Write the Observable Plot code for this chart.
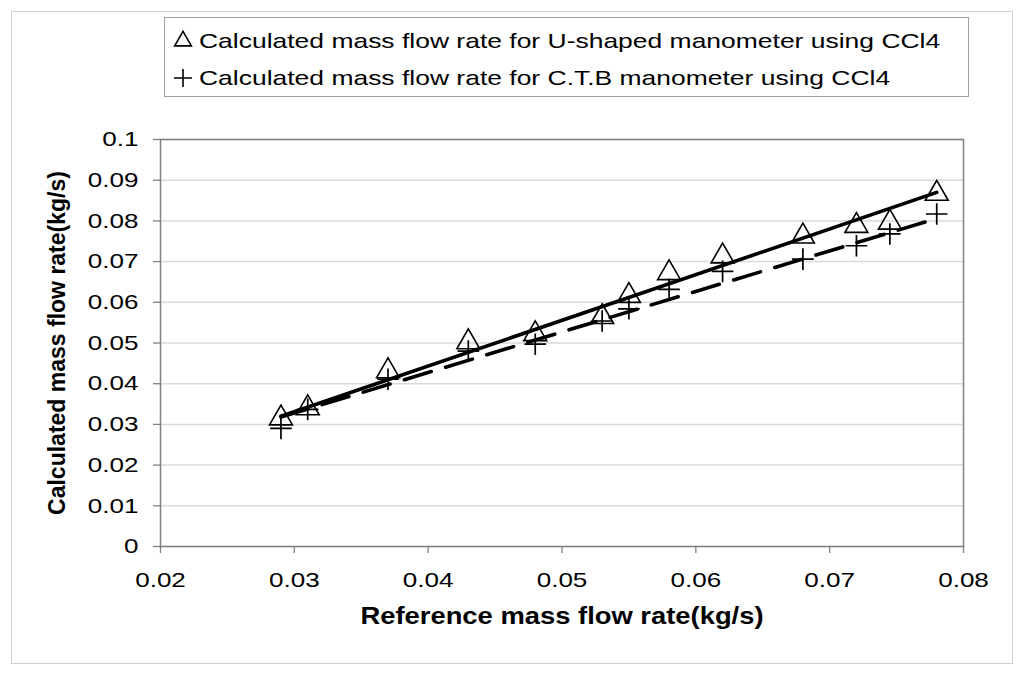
<!DOCTYPE html>
<html>
<head>
<meta charset="utf-8">
<script src="https://cdn.jsdelivr.net/npm/d3@7"></script>
<script src="https://cdn.jsdelivr.net/npm/@observablehq/plot@0.6"></script>
<style>
  body { margin: 0; background: white; font-family: "Liberation Sans", Arial, sans-serif; }
  #wrap { position: relative; width: 1024px; height: 676px; }
  #chart { position: absolute; left: 0; top: 0; }
  #border { position: absolute; left: 11px; top: 11px; width: 1000px; height: 651px; border: 1.5px solid #cfcfcf; }
  #legend { position: absolute; left: 164px; top: 17px; width: 803px; height: 78px; border: 1px solid #a0a0a0; background: white; }
  g[aria-label="y-axis tick"], g[aria-label="x-axis tick"] { stroke: #808080; stroke-width: 1.3; }
</style>
</head>
<body>
<div id="wrap">
  <div id="border"></div>
  <div id="chart"></div>
  <div id="legend"></div>
</div>
<script>
// tick values
const xTicks = [0.02, 0.03, 0.04, 0.05, 0.06, 0.07, 0.08];
const yTicks = [0, 0.01, 0.02, 0.03, 0.04, 0.05, 0.06, 0.07, 0.08, 0.09, 0.1];

// reference mass flow rate (x) and calculated rates for both manometers
const refFlow = [0.029, 0.031, 0.037, 0.043, 0.048, 0.053, 0.055, 0.058, 0.062, 0.068, 0.072, 0.0745, 0.078];
const uShaped = [0.0315, 0.034, 0.0431, 0.0502, 0.0522, 0.0564, 0.0616, 0.0672, 0.0713, 0.0762, 0.0788, 0.0796, 0.0867];
const ctb = [0.029, 0.0337, 0.0411, 0.048, 0.0497, 0.0554, 0.0584, 0.0632, 0.0676, 0.0706, 0.0739, 0.0768, 0.0817];

// trend lines as drawn in the picture
const trendX = [0.029, 0.078];
const uTrend = [0.032, 0.087];
const ctbTrend = [0.0318, 0.0806];

const legendLabels = [
  "Calculated mass flow rate for U-shaped manometer using CCl4",
  "Calculated mass flow rate for C.T.B manometer using CCl4"
];
const xTitle = "Reference mass flow rate(kg/s)";
const yTitle = "Calculated mass flow rate(kg/s)";

const uPts = refFlow.map((x, i) => ({x, y: uShaped[i]}));
const cPts = refFlow.map((x, i) => ({x, y: ctb[i]}));
const uLine = trendX.map((x, i) => ({x, y: uTrend[i]}));
const cLine = trendX.map((x, i) => ({x, y: ctbTrend[i]}));

const fmt = d => String(+d.toFixed(2));

let chart = Plot.plot({
  width: 1024,
  height: 676,
  marginTop: 139,
  marginLeft: 160,
  marginRight: 61,
  marginBottom: 130,
  x: {domain: [0.02, 0.08]},
  y: {domain: [0, 0.1]},
  style: {
    fontFamily: "Liberation Sans, Arial, sans-serif",
    fontSize: "21px",
    background: "transparent",
    color: "black",
    overflow: "visible"
  },
  marks: [
    Plot.gridY(yTicks, {stroke: "#d9d9d9", strokeOpacity: 1, strokeWidth: 1.5}),
    Plot.frame({stroke: "#808080", strokeWidth: 1.5}),
    Plot.axisY(yTicks, {tickSize: 7, tickPadding: 15, tickFormat: fmt, label: null, fontSize: 21}),
    Plot.axisX(xTicks, {tickSize: 7, tickPadding: 19, tickFormat: fmt, label: null, fontSize: 21}),
    Plot.line(uLine, {x: "x", y: "y", stroke: "black", strokeWidth: 3.6}),
    Plot.line(cLine, {x: "x", y: "y", stroke: "black", strokeWidth: 3.6, strokeDasharray: "28,15"}),
    Plot.dot(uPts, {x: "x", y: "y", symbol: "triangle", r: 8.5, stroke: "black", strokeWidth: 1.6, fill: "none"}),
    Plot.dot(cPts, {x: "x", y: "y", symbol: "plus", r: 7, stroke: "black", strokeWidth: 1.7}),
    Plot.text([xTitle], {frameAnchor: "bottom", textAnchor: "middle", dy: 77, fontWeight: "bold", fontSize: 23}),
    Plot.text([yTitle], {frameAnchor: "left", textAnchor: "middle", dx: -103, rotate: -90, fontWeight: "bold", fontSize: 23})
  ]
});
d3.select("#chart").append(() => chart);

function stretch(sel, k) {
  sel.each(function() {
    const w = this.getComputedTextLength();
    this.setAttribute("textLength", w * k);
    this.setAttribute("lengthAdjust", "spacingAndGlyphs");
  });
}
stretch(d3.select(chart).selectAll('g[aria-label="y-axis tick label"] text, g[aria-label="x-axis tick label"] text'), 1.24);
stretch(d3.select(chart).selectAll("text").filter(function() { return this.textContent === xTitle; }), 1.19);

// legend
const lg = d3.select("#legend").append("svg").attr("width", 803).attr("height", 78)
  .style("font-family", "Liberation Sans, Arial, sans-serif").style("font-size", "21px");
const syms = [d3.symbolTriangle2, d3.symbolPlus];
const sizes = [200, 107];
legendLabels.forEach((t, i) => {
  const cy = i === 0 ? 23 : 60;
  lg.append("path")
    .attr("d", d3.symbol(syms[i], sizes[i])())
    .attr("transform", `translate(18,${cy})`)
    .attr("fill", "none").attr("stroke", "black").attr("stroke-width", 1.6);
  const tx = lg.append("text").attr("x", 34).attr("y", cy + 7).text(t);
  stretch(tx, 1.26);
});
</script>
</body>
</html>
